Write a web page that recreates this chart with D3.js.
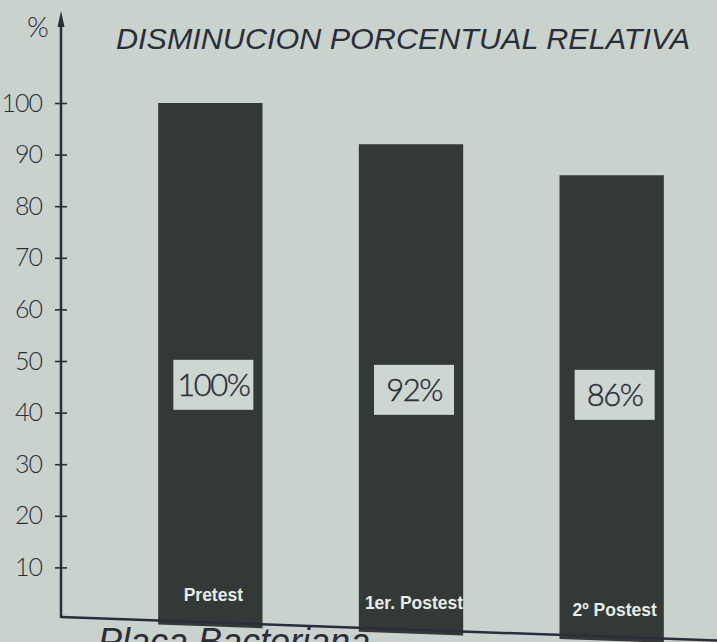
<!DOCTYPE html>
<html>
<head>
<meta charset="utf-8">
<script src="https://cdn.jsdelivr.net/npm/d3@7"></script>
<style>
  html, body { margin: 0; padding: 0; background: #c9d2cc; }
  svg { display: block; }
</style>
</head>
<body>
<svg id="chart" width="717" height="642"></svg>
<script>
// Relative percentage decrease across the three measurements
const categories = ["Pretest", "1er. Postest", "2º Postest"];
const values = [100, 92, 86];
const valueLabels = ["100%", "92%", "86%"];
const tickValues = [10, 20, 30, 40, 50, 60, 70, 80, 90, 100];
const title = "DISMINUCION PORCENTUAL RELATIVA";
const axisUnit = "%";
const footer = "Placa Bacteriana";

const W = 717, H = 642;
const ink = "#2a2d3a";
const barFill = "#333936";
const paper = "#c9d2cc";

const svg = d3.select("#chart");
svg.append("rect").attr("width", W).attr("height", H).attr("fill", paper);

const axisX = 61;
const y = d3.scaleLinear().domain([0, 100]).range([619, 103]);
const x = d3.scaleBand().domain(categories).range([108, 714])
  .paddingInner(0.48).paddingOuter(0.25);

// the hand-drawn baseline runs slightly downhill to the right
const slope = 0.036;
const base = px => y(0) - 2 + slope * (px - axisX);

// bars, with their bottom edge following the baseline
svg.append("g").selectAll("path.bar")
  .data(categories)
  .join("path")
  .attr("class", "bar")
  .attr("fill", barFill)
  .attr("d", (c, i) => {
    const x0 = x(c), x1 = x(c) + x.bandwidth();
    const top = y(values[i]);
    return `M${x0},${top}L${x1},${top}L${x1},${base(x1) + 4}L${x0},${base(x0) + 4}Z`;
  });

// value boxes inside the bars
const boxW = 80, boxH = 50;
const boxes = svg.append("g").selectAll("g.vbox")
  .data(categories)
  .join("g")
  .attr("class", "vbox")
  .attr("transform", c => {
    const cx = x(c) + x.bandwidth() / 2 + 3;
    const cy = 381 + 0.025 * (cx - axisX);
    return `translate(${cx},${cy})`;
  });
boxes.append("rect")
  .attr("x", -boxW / 2).attr("y", -boxH / 2)
  .attr("width", boxW).attr("height", boxH)
  .attr("fill", "#cdd6d0");
boxes.append("text")
  .attr("text-anchor", "middle")
  .attr("dy", "0.36em")
  .attr("font-family", "Lato, 'Noto Sans', sans-serif")
  .attr("font-weight", 300)
  .attr("font-size", 31)
  .attr("letter-spacing", -1.5)
  .attr("stroke", ink)
  .attr("stroke-width", 0.4)
  .attr("fill", ink)
  .text((c, i) => valueLabels[i]);

// category names at the foot of each bar
svg.append("g").selectAll("text.cat")
  .data(categories)
  .join("text")
  .attr("class", "cat")
  .attr("x", c => x(c) + x.bandwidth() / 2 + 3)
  .attr("y", c => base(x(c) + x.bandwidth() / 2) - 21)
  .attr("text-anchor", "middle")
  .attr("font-family", "'Liberation Sans', Arial, sans-serif")
  .attr("font-weight", "bold")
  .attr("font-size", 17.5)
  .attr("fill", "#e6ebe8")
  .text(c => c);

// baseline
svg.append("line")
  .attr("x1", axisX).attr("y1", base(axisX))
  .attr("x2", W).attr("y2", base(W))
  .attr("stroke", ink).attr("stroke-width", 2.5);

// y axis with ticks crossing the line
const yAxis = svg.append("g")
  .attr("transform", `translate(${axisX},0)`)
  .call(d3.axisLeft(y).tickValues(tickValues).tickSize(6).tickPadding(13));
yAxis.select(".domain").remove();
yAxis.selectAll(".tick line")
  .attr("x1", -6).attr("x2", 6)
  .attr("stroke", ink).attr("stroke-width", 1.6);
yAxis.selectAll(".tick text")
  .attr("font-family", "Lato, 'Noto Sans', sans-serif")
  .attr("font-weight", 300)
  .attr("font-size", 25)
  .attr("letter-spacing", -1)
  .attr("fill", ink);

svg.append("line")
  .attr("x1", axisX).attr("y1", 20)
  .attr("x2", axisX).attr("y2", base(axisX) + 1)
  .attr("stroke", ink).attr("stroke-width", 2.5);
svg.append("path")
  .attr("d", `M${axisX},11L${axisX + 3.5},27L${axisX - 3.5},27Z`)
  .attr("fill", ink);

// unit label
svg.append("text")
  .attr("x", 38).attr("y", 37)
  .attr("text-anchor", "middle")
  .attr("font-family", "Lato, 'Noto Sans', sans-serif")
  .attr("font-weight", 300)
  .attr("font-size", 28)
  .attr("fill", ink)
  .text(axisUnit);

// title
svg.append("text")
  .attr("x", 116).attr("y", 49)
  .attr("font-family", "'Liberation Sans', Arial, sans-serif")
  .attr("font-style", "italic")
  .attr("font-size", 29)
  .attr("textLength", 574)
  .attr("lengthAdjust", "spacingAndGlyphs")
  .attr("fill", ink)
  .text(title);

// caption under the baseline
svg.append("text")
  .attr("x", 98).attr("y", 654)
  .attr("font-family", "'Liberation Sans', Arial, sans-serif")
  .attr("font-style", "italic")
  .attr("font-size", 36)
  .attr("fill", ink)
  .text(footer);
</script>
</body>
</html>
